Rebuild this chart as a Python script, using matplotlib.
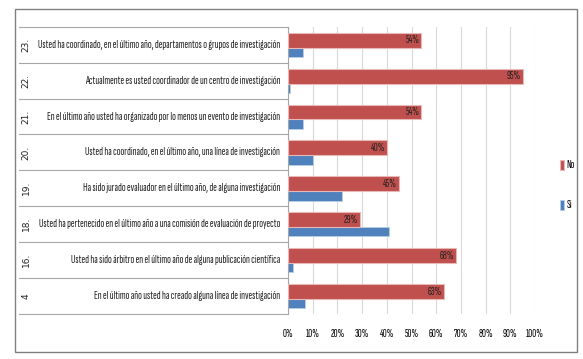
import matplotlib.pyplot as plt
import numpy as np
from matplotlib.patches import Rectangle
from matplotlib import font_manager as fm

# data (top to bottom as in the chart)
nums = ["23.", "22.", "21.", "20.", "19.", "18.", "16.", "4"]
questions = [
    "Usted ha coordinado, en el último año, departamentos o grupos de investigación",
    "Actualmente es usted coordinador de un centro de investigación",
    "En el último año usted ha organizado por lo menos un evento de investigación",
    "Usted ha coordinado, en el último año, una línea de investigación",
    "Ha sido jurado evaluador en el último año, de alguna investigación",
    "Usted ha pertenecido en el último año a una comisión de evaluación de proyecto",
    "Usted ha sido árbitro en el último año de alguna publicación científica",
    "En el último año usted ha creado alguna línea de investigación",
]
no_vals = [54, 95, 54, 40, 45, 29, 68, 63]
si_vals = [6, 1, 6, 10, 22, 41, 2, 7]

# narrow font like the original
narrow = "Liberation Sans"
for fam in ["Sofia Sans Extra Condensed", "Saira Extra Condensed", "Pathway Gothic One",
            "Encode Sans Compressed", "Barlow Condensed", "Fira Sans Extra Condensed"]:
    try:
        fm.findfont(fm.FontProperties(family=fam), fallback_to_default=False)
        narrow = fam
        break
    except ValueError:
        pass
plt.rcParams['font.family'] = [narrow, 'DejaVu Sans']

fig = plt.figure(figsize=(5.83, 3.59), dpi=100)
ax = fig.add_axes([288 / 583, 1 - 314 / 359, 247 / 583, 287.3 / 359])

y = np.arange(len(nums))
red = "#C0504D"
blue = "#4F81BD"

ax.barh(y + 0.21, si_vals, height=0.26, color=blue, edgecolor="#B9CDE5", linewidth=0.6, label="Si", zorder=2)
ax.barh(y - 0.125, no_vals, height=0.417, color=red, edgecolor="#E6B9B8", linewidth=0.8, label="No", zorder=3)

ax.set_xlim(0, 100)
ax.set_ylim(len(nums) - 0.5, -0.5)
ax.set_xticks(np.arange(0, 101, 10))
ax.set_yticks([])
ax.tick_params(axis="x", length=0, pad=11)
ax.grid(axis="x", color="#D9D9D9", linewidth=0.8, zorder=0)
for s in ["top", "right", "bottom"]:
    ax.spines[s].set_visible(False)
ax.spines["left"].set_color("#A6A6A6")
ax.spines["left"].set_linewidth(0.8)

# label table on the left
tr = ax.get_yaxis_transform()
x_left = (19 - 288) / 247
for b in np.arange(len(nums) + 1) - 0.5:
    ax.plot([x_left, 0], [b, b], transform=tr, color="#A6A6A6", lw=0.8, clip_on=False)

qtexts = []
for yi, n, q in zip(y, nums, questions):
    ax.text((26 - 288) / 247, yi, n, transform=tr, rotation=90, ha="center", va="center",
            fontsize=6.5, family=["DejaVu Sans"], color="#222222")
    qtexts.append(ax.text(-0.032, yi, q, transform=tr, ha="right", va="center",
                          fontsize=8, color="#222222"))

# fit longest question to ~243 px like the original
fig.canvas.draw()
r = fig.canvas.get_renderer()
wmax = max(t.get_window_extent(r).width for t in qtexts)
fs = min(8.5, 8 * 243 / wmax)
for t in qtexts:
    t.set_fontsize(fs)

ax.set_xticklabels([f"{t}%" for t in range(0, 101, 10)], fontsize=fs)

for yi, v in zip(y, no_vals):
    ax.text(v - 0.8, yi - 0.125, f"{v}%", ha="right", va="center",
            fontsize=fs, color="#222222", zorder=4)

# legend
handles, labels = ax.get_legend_handles_labels()
fig.legend(handles[::-1], labels[::-1], loc="center left", bbox_to_anchor=(550 / 583, 1 - 185 / 359),
           frameon=False, fontsize=fs, handlelength=0.35, handleheight=1.0,
           labelspacing=2.6, handletextpad=0.2)

# outer border
fig.patches.append(Rectangle((15 / 583, 1 - 352 / 359), 562 / 583, 343 / 359, transform=fig.transFigure,
                             fill=False, edgecolor="#808080", linewidth=1.0))

fig.savefig("out.png", dpi=100)
